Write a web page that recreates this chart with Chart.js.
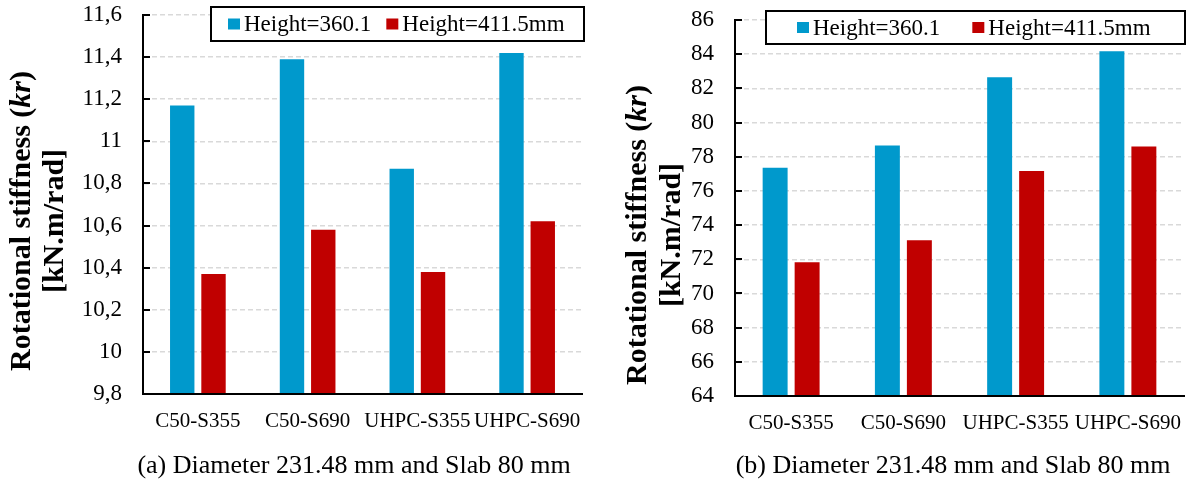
<!DOCTYPE html>
<html>
<head>
<meta charset="utf-8">
<script src="https://cdn.jsdelivr.net/npm/chart.js@4.4.0/dist/chart.umd.min.js"></script>
<style>
  html, body { margin: 0; padding: 0; background: #fff; }
  #wrap { position: relative; width: 1190px; height: 483px; }
  .panel { position: absolute; top: 0; width: 595px; height: 483px; }
  #panelA { left: 0; }
  #panelB { left: 595px; }
</style>
</head>
<body>
<div id="wrap">
  <div class="panel" id="panelA"><canvas id="chartA"></canvas></div>
  <div class="panel" id="panelB"><canvas id="chartB"></canvas></div>
</div>
<script>
/* ── DATA ─────────────────────────────────────────────── */
const categories   = ['C50-S355', 'C50-S690', 'UHPC-S355', 'UHPC-S690'];
const seriesNames  = ['Height=360.1', 'Height=411.5mm'];
const seriesColors = ['#0099CC', '#C00000'];

/* (a) panel */
const blueA       = [11.17, 11.39, 10.87, 11.42];
const redA        = [10.37, 10.58, 10.38, 10.62];
const ticksA      = [9.8, 10, 10.2, 10.4, 10.6, 10.8, 11, 11.2, 11.4, 11.6];
const tickLabelsA = ['9,8', '10', '10,2', '10,4', '10,6', '10,8', '11', '11,2', '11,4', '11,6'];

/* (b) panel */
const blueB       = [77.36, 78.65, 82.65, 84.17];
const redB        = [71.82, 73.11, 77.17, 78.60];
const ticksB      = [64, 66, 68, 70, 72, 74, 76, 78, 80, 82, 84, 86];
const tickLabelsB = ['64', '66', '68', '70', '72', '74', '76', '78', '80', '82', '84', '86'];

const captionA = '(a) Diameter 231.48 mm and Slab 80 mm';
const captionB = '(b) Diameter 231.48 mm and Slab 80 mm';
const yTitleLine1 = ['Rotational stiffness (', 'kr', ')'];
const yTitleLine2 = '[kN.m/rad]';

const SERIF = "'Liberation Serif', 'Times New Roman', serif";

/* ── DECORATION PLUGIN: inner ticks, boxed legend, y title, caption ── */
const decor = {
  id: 'decor',
  afterDraw(chart, args, o) {
    const { ctx, chartArea: a } = chart;
    const y = chart.scales.y;

    /* short inward tick marks on the y axis */
    ctx.save();
    ctx.strokeStyle = '#000';
    ctx.lineWidth = 2;
    y.ticks.forEach(t => {
      const py = Math.round(y.getPixelForValue(t.value));
      ctx.beginPath();
      ctx.moveTo(a.left - 1, py);
      ctx.lineTo(a.left + 7, py);
      ctx.stroke();
    });
    ctx.restore();

    /* legend box */
    const L = o.legend;
    ctx.save();
    ctx.fillStyle = '#fff';
    ctx.fillRect(L.left, L.top, L.right - L.left, L.bottom - L.top);
    ctx.strokeStyle = '#000';
    ctx.lineWidth = 2;
    ctx.strokeRect(L.left, L.top, L.right - L.left, L.bottom - L.top);
    ctx.font = `23px ${SERIF}`;
    ctx.textBaseline = 'middle';
    const cy = (L.top + L.bottom) / 2;
    let x = L.left + L.padLeft;
    chart.data.datasets.forEach(ds => {
      ctx.fillStyle = ds.backgroundColor;
      ctx.fillRect(x, cy - 5.5, 12, 11);
      x += 16;
      ctx.fillStyle = '#000';
      ctx.fillText(ds.label, x, cy + 1);
      x += ctx.measureText(ds.label).width + L.gap;
    });
    ctx.restore();

    /* rotated y-axis title, "kr" in italic */
    const T = o.title;
    ctx.save();
    ctx.fillStyle = '#000';
    ctx.textBaseline = 'middle';
    const fonts = [`bold 30px ${SERIF}`, `italic bold 30px ${SERIF}`, `bold 30px ${SERIF}`];
    const widths = yTitleLine1.map((s, i) => { ctx.font = fonts[i]; return ctx.measureText(s).width; });
    const total = widths.reduce((s, w) => s + w, 0);
    ctx.translate(T.x1, T.y);
    ctx.rotate(-Math.PI / 2);
    let u = -total / 2;
    yTitleLine1.forEach((s, i) => { ctx.font = fonts[i]; ctx.fillText(s, u, 0); u += widths[i]; });
    ctx.restore();
    ctx.save();
    ctx.fillStyle = '#000';
    ctx.textBaseline = 'middle';
    ctx.textAlign = 'center';
    ctx.font = `bold 30px ${SERIF}`;
    ctx.translate(T.x2, T.y);
    ctx.rotate(-Math.PI / 2);
    ctx.fillText(yTitleLine2, 0, 0);
    ctx.restore();

    /* caption under the chart */
    ctx.save();
    ctx.fillStyle = '#000';
    ctx.font = `26px ${SERIF}`;
    ctx.textAlign = 'center';
    ctx.textBaseline = 'middle';
    ctx.fillText(o.caption.text, o.caption.x, o.caption.y);
    ctx.restore();
  }
};

function makeChart(id, blue, red, ticks, tickLabels, cfg) {
  return new Chart(document.getElementById(id), {
    type: 'bar',
    data: {
      labels: categories,
      datasets: [
        { label: seriesNames[0], data: blue, backgroundColor: seriesColors[0], borderWidth: 0 },
        { label: seriesNames[1], data: red,  backgroundColor: seriesColors[1], borderWidth: 0 },
      ],
    },
    options: {
      responsive: true,
      maintainAspectRatio: false,
      animation: false,
      layout: { padding: { top: cfg.padTop, right: cfg.padRight, left: 0, bottom: 0 } },
      datasets: { bar: { categoryPercentage: 0.57, barPercentage: 0.78 } },
      plugins: {
        legend:  { display: false },
        tooltip: { enabled: false },
        decor: cfg.decor,
      },
      scales: {
        x: {
          grid:   { display: false },
          border: { display: true, color: '#000', width: 2, z: 1 },
          ticks:  { color: '#000', font: { family: SERIF, size: 21 }, padding: 7, autoSkip: false, maxRotation: 0 },
          afterFit(s) { s.height = cfg.xHeight; },
        },
        y: {
          min: ticks[0],
          max: ticks[ticks.length - 1],
          afterBuildTicks(s) { s.ticks = ticks.map(v => ({ value: v })); },
          grid:   { color: '#d9d9d9', lineWidth: 1.5, drawTicks: false },
          border: { display: true, color: '#000', width: 2, dash: [5, 3] },
          ticks:  {
            color: '#000', font: { family: SERIF, size: 23 }, padding: 21,
            callback: (v, i) => tickLabels[i],
          },
          afterFit(s) { s.width = cfg.yWidth; s.paddingTop = 0; s.paddingBottom = 0; },
        },
      },
    },
    plugins: [decor],
  });
}

makeChart('chartA', blueA, redA, ticksA, tickLabelsA, {
  padTop: 15, padRight: 13, yWidth: 143, xHeight: 89,
  decor: {
    legend:  { left: 211, right: 584, top: 7, bottom: 41, padLeft: 17, gap: 15 },
    title:   { x1: 22.5, x2: 55, y: 221 },
    caption: { text: captionA, x: 354, y: 466 },
  },
});

makeChart('chartB', blueB, redB, ticksB, tickLabelsB, {
  padTop: 20, padRight: 6, yWidth: 140, xHeight: 87,
  decor: {
    legend:  { left: 171, right: 590, top: 11, bottom: 44, padLeft: 31, gap: 32 },
    title:   { x1: 43, x2: 77, y: 235 },
    caption: { text: captionB, x: 358, y: 466 },
  },
});
</script>
</body>
</html>
